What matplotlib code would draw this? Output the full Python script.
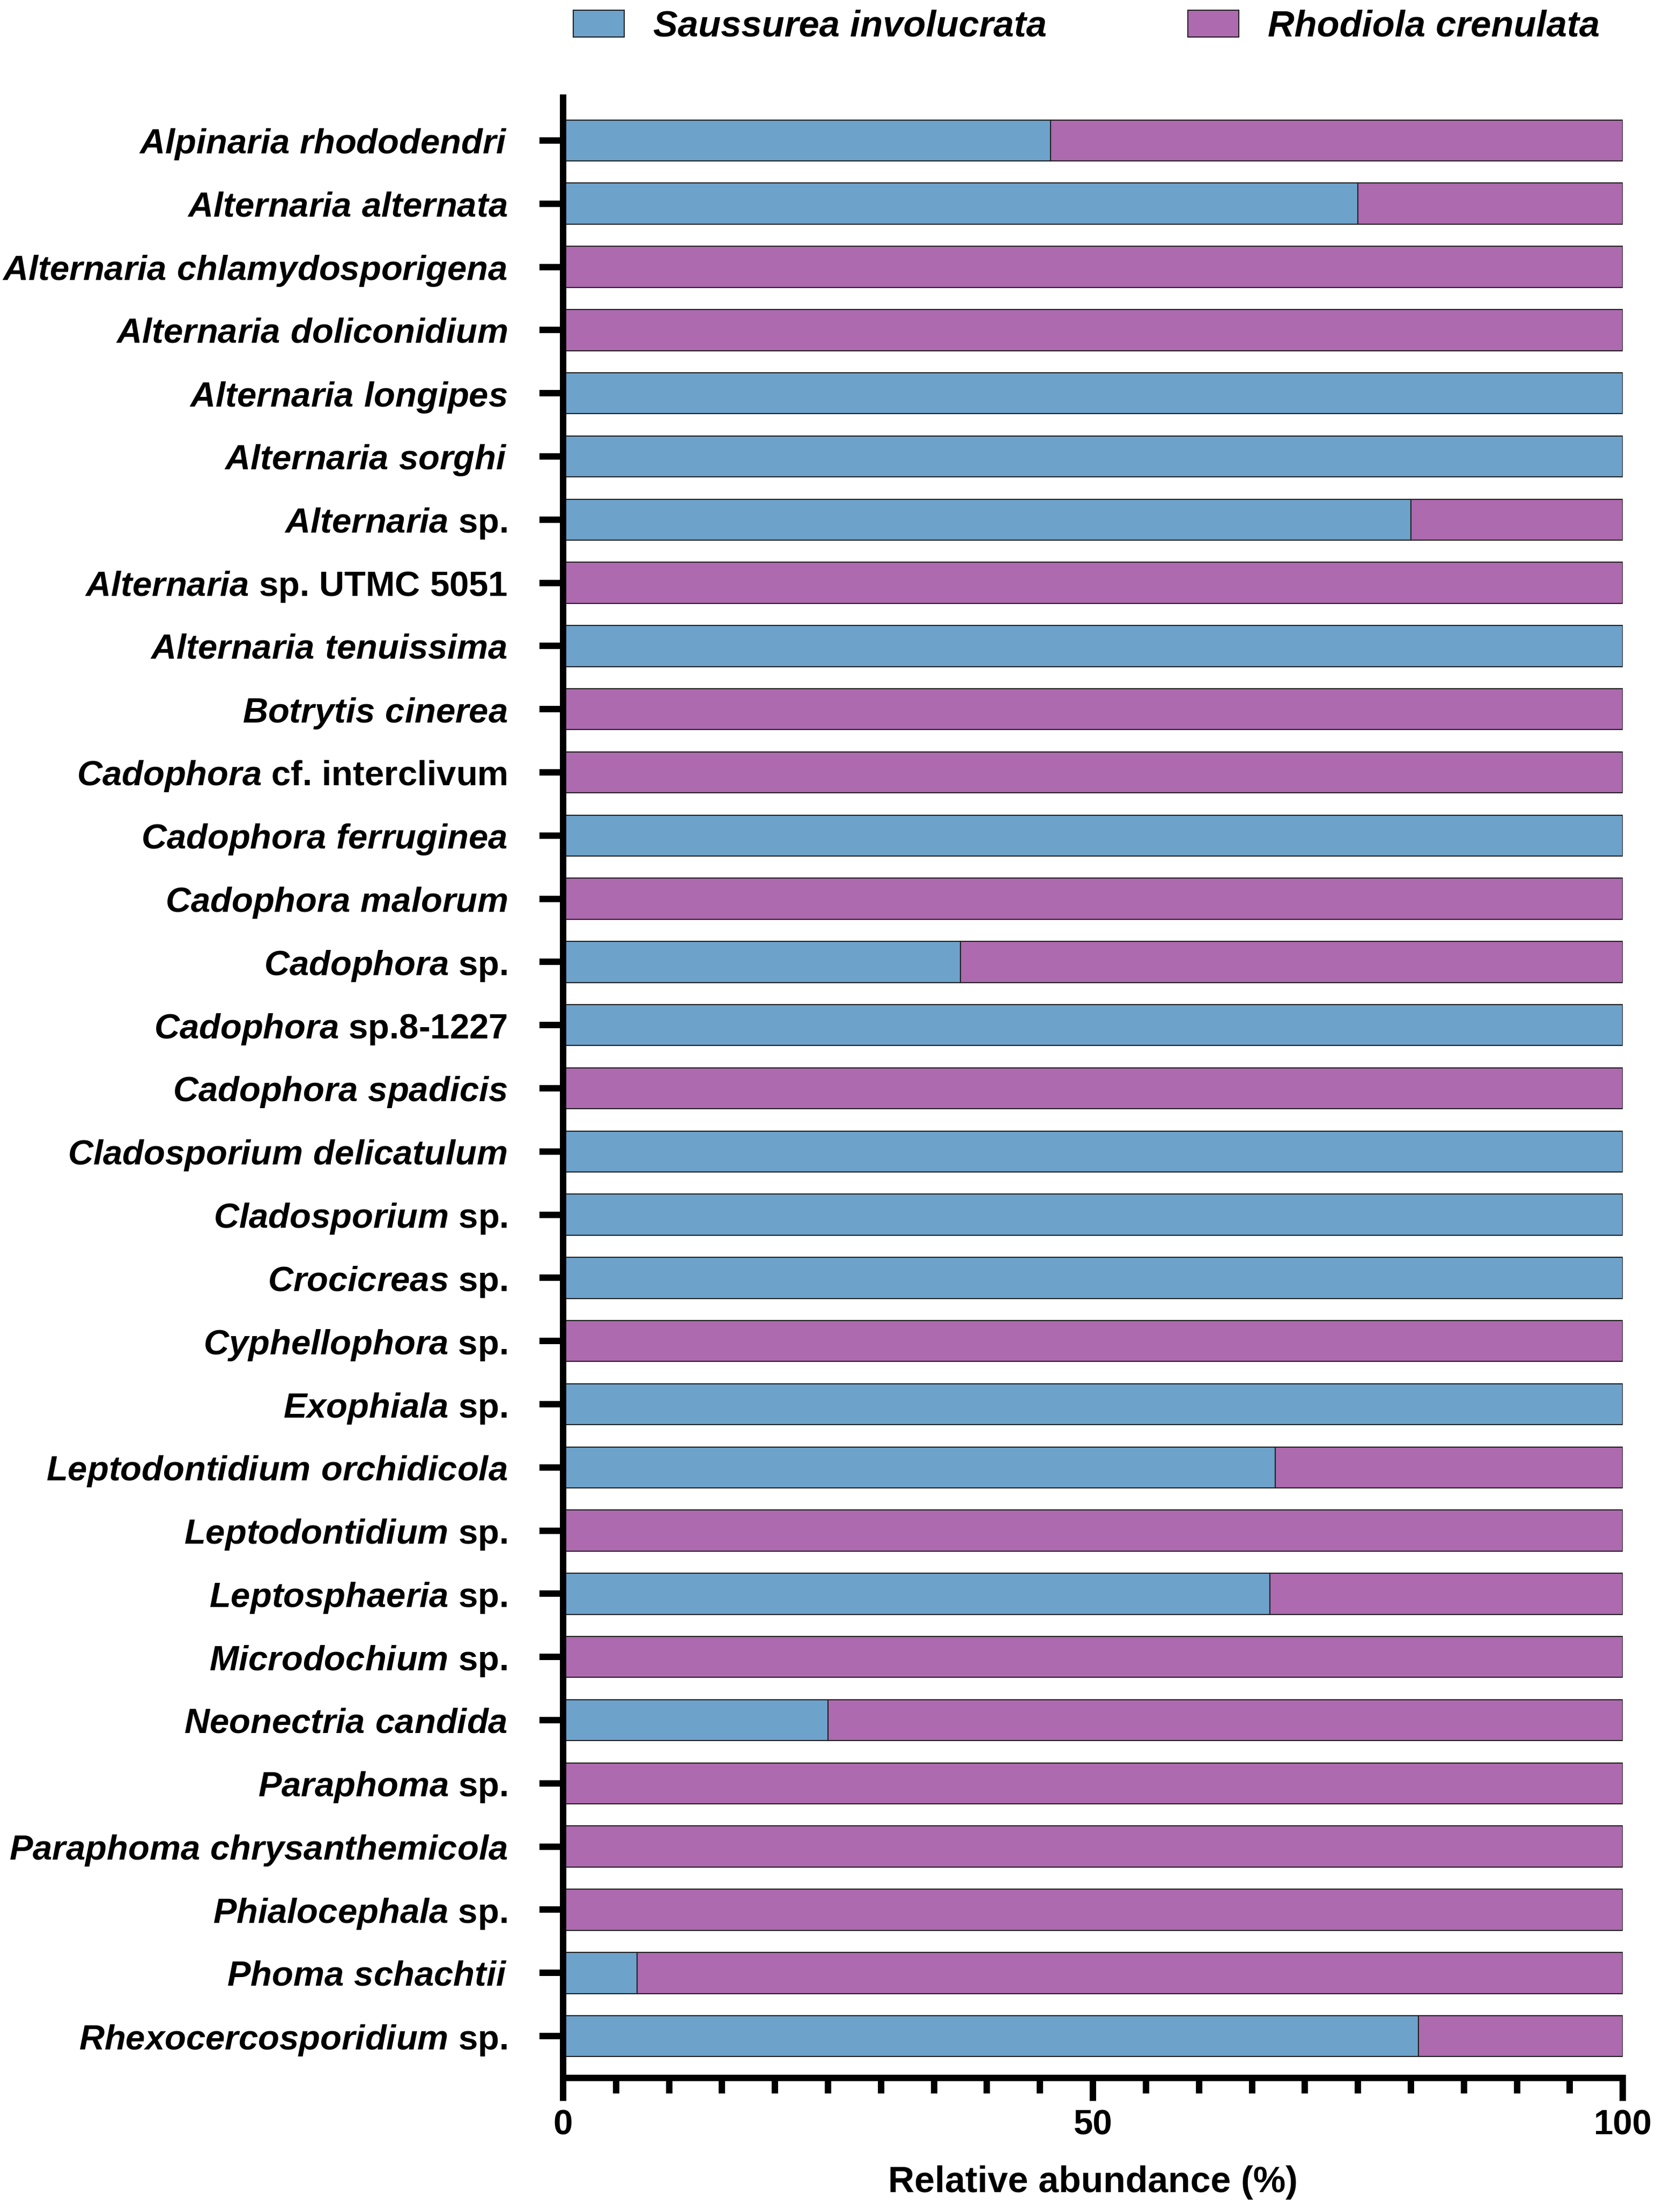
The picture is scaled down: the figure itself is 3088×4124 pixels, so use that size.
import matplotlib
matplotlib.use('Agg')
import matplotlib.pyplot as plt
from matplotlib.ticker import MultipleLocator

plt.rcParams['font.family'] = 'Liberation Sans'
plt.rcParams['font.weight'] = 'bold'
plt.rcParams['mathtext.fontset'] = 'custom'
plt.rcParams['mathtext.it'] = 'Liberation Sans:italic:bold'
plt.rcParams['mathtext.rm'] = 'Liberation Sans:bold'
plt.rcParams['mathtext.bf'] = 'Liberation Sans:bold'

# italic part of the name, upright part
genus_species = ['Alpinaria rhododendri', 'Alternaria alternata', 'Alternaria chlamydosporigena',
                 'Alternaria doliconidium', 'Alternaria longipes', 'Alternaria sorghi',
                 'Alternaria', 'Alternaria', 'Alternaria tenuissima', 'Botrytis cinerea',
                 'Cadophora', 'Cadophora ferruginea', 'Cadophora malorum', 'Cadophora',
                 'Cadophora', 'Cadophora spadicis', 'Cladosporium delicatulum', 'Cladosporium',
                 'Crocicreas', 'Cyphellophora', 'Exophiala', 'Leptodontidium orchidicola',
                 'Leptodontidium', 'Leptosphaeria', 'Microdochium', 'Neonectria candida',
                 'Paraphoma', 'Paraphoma chrysanthemicola', 'Phialocephala', 'Phoma schachtii',
                 'Rhexocercosporidium']
suffix = ['', '', '', '', '', '', 'sp.', 'sp. UTMC 5051', '', '', 'cf. interclivum', '', '',
          'sp.', 'sp.8-1227', '', '', 'sp.', 'sp.', 'sp.', 'sp.', '', 'sp.', 'sp.', 'sp.', '',
          'sp.', '', 'sp.', '', 'sp.']

saussurea = [46, 75, 0, 0, 100, 100, 80, 0, 100, 0,
             0, 100, 0, 37.5, 100, 0, 100, 100, 100, 0,
             100, 67.2, 0, 66.7, 0, 25, 0, 0, 0, 7, 80.7]
rhodiola = [54, 25, 100, 100, 0, 0, 20, 100, 0, 100,
            100, 0, 100, 62.5, 0, 100, 0, 0, 0, 100,
            0, 32.8, 100, 33.3, 100, 75, 100, 100, 100, 93, 19.3]

labels = []
for it, rest in zip(genus_species, suffix):
    lab = r'$\mathit{' + it.replace(' ', r'\ ') + '}$'
    if rest:
        lab += ' ' + rest
    labels.append(lab)

blue = '#6DA2CB'
purple = '#AD6AAF'

fig = plt.figure(figsize=(30.88, 41.24), dpi=100)
ax = fig.add_axes([0.3400, 0.06062, 0.6400, 0.89525])

y = list(range(len(labels)))
ax.barh(y, saussurea, height=0.65, color=blue, edgecolor='#222222', linewidth=1.5,
        label='Saussurea involucrata')
ax.barh(y, rhodiola, left=saussurea, height=0.65, color=purple, edgecolor='#222222',
        linewidth=1.5, label='Rhodiola crenulata')

ax.set_xlim(0, 100)
ax.set_ylim(30.662, -0.679)
ax.set_yticks(y)
ax.set_yticklabels(labels)
ax.set_xticks([0, 50, 100])
ax.xaxis.set_minor_locator(MultipleLocator(5))

for s in ['top', 'right']:
    ax.spines[s].set_visible(False)
for s in ['left', 'bottom']:
    ax.spines[s].set_linewidth(8.6)

ax.tick_params(axis='y', length=31.7, width=8.6, pad=43, labelsize=47)
ax.tick_params(axis='x', which='major', length=31, width=8.6, pad=11, labelsize=47)
ax.tick_params(axis='x', which='minor', length=21, width=8.6)
ax.set_xlabel('Relative abundance (%)', fontsize=49, fontweight='bold', labelpad=32)

fs = 49.5 * 100 / 72
fig.legend(loc='center left', bbox_to_anchor=(1069 / 3088, 1 - 50 / 4124), ncol=2,
           frameon=False, borderpad=0, borderaxespad=0,
           prop={'style': 'italic', 'weight': 'bold', 'size': 49.5},
           handlelength=95 / fs, handleheight=51 / fs, handletextpad=54 / fs,
           columnspacing=263 / fs)

fig.savefig('out.png', dpi=100)
